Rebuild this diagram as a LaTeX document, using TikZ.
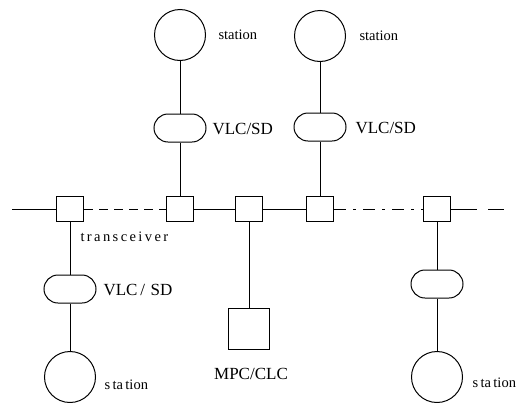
\documentclass[tikz,border=0pt]{standalone}
\usepackage{fontspec}
\setmainfont{Liberation Serif}
\usetikzlibrary{shapes.misc}
\begin{document}
\begin{tikzpicture}[x=1pt,y=-1pt,line width=1pt,
  trx/.style={draw,minimum width=27pt,minimum height=25pt,inner sep=0pt},
  station/.style={draw,circle,minimum size=51pt,inner sep=0pt},
  vlc/.style={draw,rounded rectangle,minimum width=52pt,minimum height=28pt,inner sep=0pt},
  ctrl/.style={draw,minimum width=41pt,minimum height=41pt,inner sep=0pt},
  lbl/.style={font=\fontsize{17}{19}\selectfont,inner sep=0pt,anchor=west},
  slbl/.style={font=\fontsize{14.5}{17}\selectfont,inner sep=0pt,anchor=west}]
\useasboundingbox (0,0) rectangle (522,402);
% transceivers
\node[trx] (t1) at (70,209) {};
\node[trx] (t2) at (180,209) {};
\node[trx] (t3) at (249,209) {};
\node[trx] (t4) at (320,209) {};
\node[trx] (t5) at (437,209) {};
\coordinate (bl) at (12,209);
\coordinate (br) at (506,209);
% bus
\draw (bl) -- (t1.west);
\draw[dash pattern=on 9pt off 6pt] (t1.east) -- (t2.west);
\draw (t2.east) -- (t3.west);
\draw (t3.east) -- (t4.west);
\draw[dash pattern=on 12pt off 7pt on 3pt off 7pt] (t4.east) -- (t5.west);
\draw[dash pattern=on 26pt off 11pt on 16pt off 10pt] (t5.east) -- (br);
% top stations
\node[station] (s1) at (180,35) {};
\node[vlc] (v1) at (180,128) {};
\draw (s1.south) -- (v1.north);
\draw (v1.south) -- (t2.north);
\node[station] (s2) at (320,36) {};
\node[vlc] (v2) at (320,127) {};
\draw (s2.south) -- (v2.north);
\draw (v2.south) -- (t4.north);
% bottom left
\node[vlc] (v3) at (70,289) {};
\node[station] (s3) at (70,377) {};
\draw (t1.south) -- (v3.north);
\draw (v3.south) -- (s3.north);
% middle controller
\node[ctrl] (c) at (249,329) {};
\draw (t3.south) -- (c.north);
% bottom right
\node[vlc] (v4) at (437,284) {};
\node[station] (s4) at (437,377) {};
\draw (t5.south) -- (v4.north);
\draw (v4.south) -- (s4.north);
% labels
\node[slbl] (ls1) at (218,35) {station};
\node[slbl] (ls2) at (359,36) {station};
\node[lbl] (lv1) at (212,129) {VLC/SD};
\node[lbl] (lv2) at (355,128) {VLC/SD};
\node[slbl] (lt) at (80,237) {t\,r\,a\,n\,s\,c\,e\,i\,v\,e\,r};
\node[lbl] (lv3) at (103,290) {VLC\,/\,\,SD};
\node[lbl,anchor=center] (lc) at (251,374) {MPC/CLC};
\node[slbl] (ls3) at (104,385) {s\,ta\,tion};
\node[slbl] (ls4) at (472,383) {s\,ta\,tion};
\end{tikzpicture}
\end{document}
